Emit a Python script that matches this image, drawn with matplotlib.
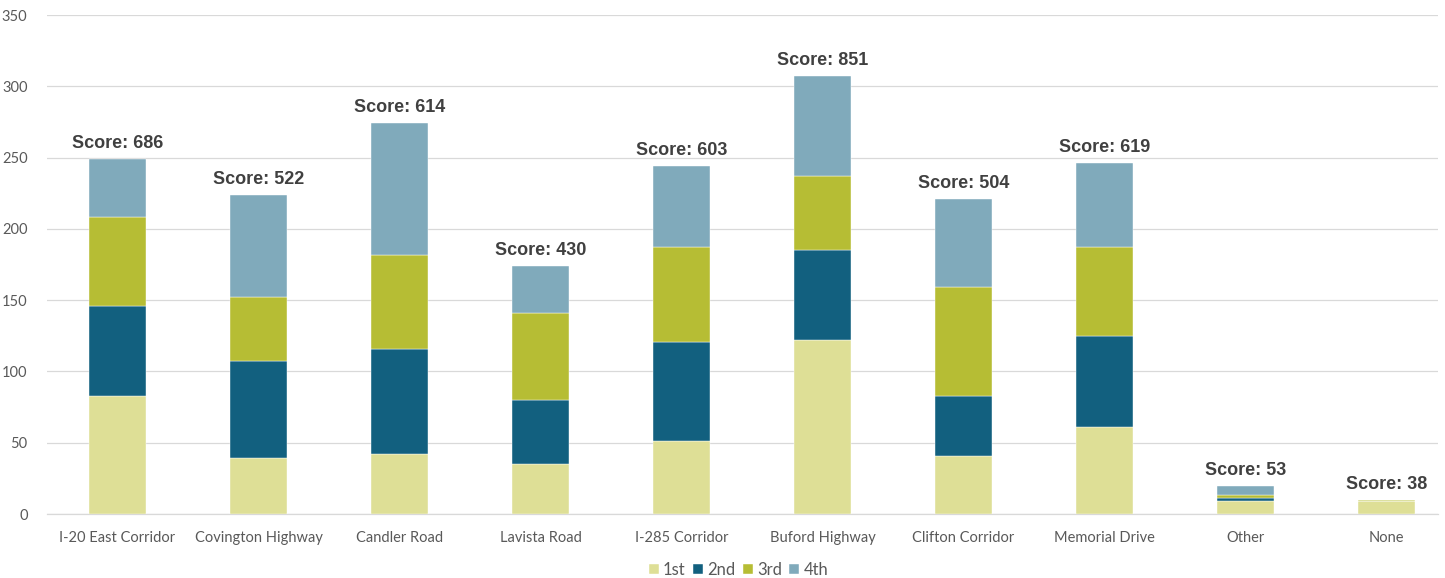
import matplotlib
matplotlib.use("Agg")
import matplotlib.pyplot as plt
import numpy as np

categories = ["I-20 East Corridor", "Covington Highway", "Candler Road", "Lavista Road",
              "I-285 Corridor", "Buford Highway", "Clifton Corridor", "Memorial Drive",
              "Other", "None"]
first = [83, 39, 42, 35, 51, 122, 41, 61, 9, 9]
second = [63, 68, 74, 45, 70, 63, 42, 64, 2, 0]
third = [62, 45, 66, 61, 66, 52, 76, 62, 2, 1]
fourth = [41, 72, 92, 33, 57, 70, 62, 59, 7, 0]
scores = [686, 522, 614, 430, 603, 851, 504, 619, 53, 38]
series_names = ["1st", "2nd", "3rd", "4th"]
colors = ["#DEDF96", "#12607F", "#B6BD34", "#80AABB"]

plt.rcParams['font.family'] = ['Lato', 'DejaVu Sans']

fig = plt.figure(figsize=(14.45, 5.78), dpi=100)
ax = fig.add_axes([0.0325, 0.1107, 0.9626, 0.8633])

x = np.arange(len(categories))
bottom = np.zeros(len(categories))
for vals, name, c in zip([first, second, third, fourth], series_names, colors):
    ax.bar(x, vals, 0.40, bottom=bottom, color=c, label=name, edgecolor="white", linewidth=0.3, zorder=3)
    bottom = bottom + np.array(vals)

for xi, tot, s in zip(x, bottom, scores):
    ax.annotate(f"Score: {s}", (xi, tot), xytext=(0, 5), textcoords="offset points",
                ha="center", va="bottom", fontsize=13, fontweight="bold", color="#404040",
                family=["Liberation Sans", "DejaVu Sans"])

ax.set_xlim(-0.5, 9.365)
ax.set_ylim(0, 350)
ax.set_yticks(np.arange(0, 351, 50))
ax.set_xticks(x)
ax.set_xticklabels(categories)
ax.tick_params(axis="both", length=0, labelsize=10.5, labelcolor="#595959")
ax.tick_params(axis="x", pad=12)
ax.tick_params(axis="y", pad=14)
ax.grid(axis="y", color="#D9D9D9", linewidth=0.9, zorder=0)
for sp in ["left", "right", "top"]:
    ax.spines[sp].set_visible(False)
ax.spines["bottom"].set_color("#D9D9D9")
ax.spines["bottom"].set_linewidth(0.9)

leg = fig.legend(loc="center", bbox_to_anchor=(0.511, 8 / 578), ncol=4, frameon=False,
                 fontsize=12, handlelength=0.6, handleheight=0.6, handletextpad=0.25,
                 columnspacing=0.45, borderpad=0)
for t in leg.get_texts():
    t.set_color("#595959")

fig.savefig("out.png", dpi=100)
